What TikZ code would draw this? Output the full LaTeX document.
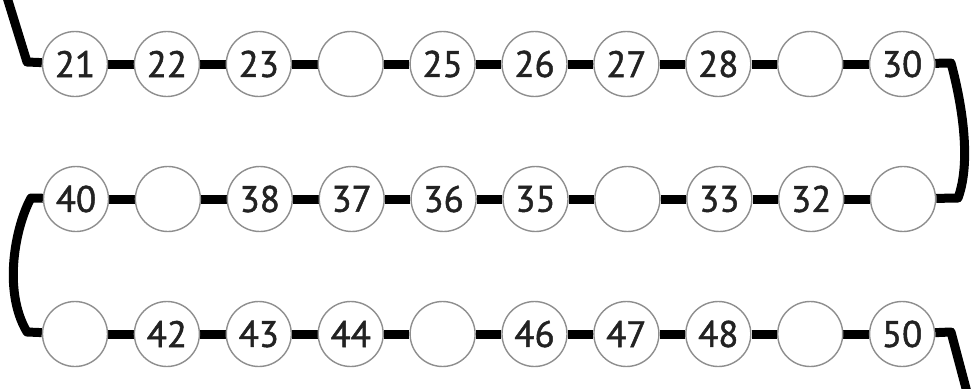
\documentclass[tikz,border=0pt]{standalone}
\usepackage{fontspec}
\newfontfamily\numfont{PT Sans}[FakeBold=1.3]
\usetikzlibrary{backgrounds}
\definecolor{ink}{HTML}{222222}
\definecolor{rim}{HTML}{8E8E8E}
\tikzset{
  ball/.style={circle, draw=rim, line width=1.4pt, fill=white, minimum size=65pt, inner sep=0pt,
    font=\numfont\fontsize{37}{37}\selectfont, text=ink},
  bar/.style={line width=9pt, black, line join=round},
}
\begin{document}
\begin{tikzpicture}[x=1pt,y=-1pt]
\useasboundingbox (0,0) rectangle (971,388);
% row 1
\foreach \i/\n/\t in {0/21/21,1/22/22,2/23/23,3/24/{},4/25/25,5/26/26,6/27/27,7/28/28,8/29/{},9/30/30}
  \node[ball] (n\n) at ({75+91.9*\i},64) {\t};
% row 2 (right to left)
\foreach \i/\n/\t in {0/40/40,1/39/{},2/38/38,3/37/37,4/36/36,5/35/35,6/34/{},7/33/33,8/32/32,9/31/{}}
  \node[ball] (n\n) at ({76+91.9*\i},199) {\t};
% row 3
\foreach \i/\n/\t in {0/41/{},1/42/42,2/43/43,3/44/44,4/45/{},5/46/46,6/47/47,7/48/48,8/49/{},9/50/50}
  \node[ball] (n\n) at ({75+91.9*\i},334) {\t};
\coordinate (s0) at (6,-6);
\coordinate (c0) at (27,62);
\coordinate (c1) at (951,63);
\coordinate (c2) at (958,198);
\coordinate (c3) at (31,198);
\coordinate (c4) at (27,332);
\coordinate (c5) at (951,332);
\coordinate (s1) at (968,396);
\begin{scope}[on background layer]
  \foreach \a in {21,22,23,24,25,26,27,28,29,31,32,33,34,35,36,37,38,39,41,42,43,44,45,46,47,48,49} {
    \pgfmathtruncatemacro\b{\a+1}
    \draw[bar] (n\a) -- (n\b);
  }
  \draw[bar] (s0) -- (c0) -- (n21);
  \draw[bar] (n30) -- (c1) .. controls (961,100) and (972,160) .. (c2) -- (n31);
  \draw[bar] (n40) -- (c3) .. controls (16,225) and (2,290) .. (c4) -- (n41);
  \draw[bar] (n50) -- (c5) -- (s1);
\end{scope}
\end{tikzpicture}
\end{document}
